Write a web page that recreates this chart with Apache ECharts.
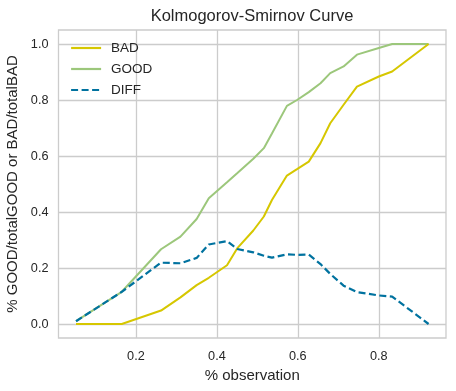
<!DOCTYPE html>
<html>
<head>
<meta charset="utf-8">
<script src="https://cdn.jsdelivr.net/npm/echarts@6/dist/echarts.min.js"></script>
<style>html,body{margin:0;padding:0;background:#fff}#c{width:456px;height:391px}</style>
</head>
<body>
<div id="c"></div>
<script>
var observation = [0.052, 0.165, 0.262, 0.31, 0.35, 0.38, 0.425, 0.45, 0.49, 0.516, 0.536, 0.573, 0.598, 0.627, 0.656, 0.68, 0.713, 0.746, 0.80, 0.833, 0.923];
var bad  = [0.0, 0.0, 0.048, 0.095, 0.139, 0.165, 0.21, 0.27, 0.334, 0.384, 0.443, 0.53, 0.553, 0.58, 0.646, 0.717, 0.783, 0.848, 0.884, 0.902, 1.0];
var good = [0.01, 0.115, 0.267, 0.312, 0.375, 0.449, 0.506, 0.538, 0.59, 0.628, 0.68, 0.779, 0.80, 0.828, 0.86, 0.896, 0.92, 0.962, 0.986, 1.0, 1.0];
var diff = [0.01, 0.115, 0.219, 0.217, 0.236, 0.284, 0.296, 0.268, 0.256, 0.244, 0.237, 0.249, 0.247, 0.248, 0.214, 0.179, 0.137, 0.114, 0.102, 0.098, 0.0];
var xTicks = [0.2, 0.4, 0.6, 0.8];
var yTicks = [0.0, 0.2, 0.4, 0.6, 0.8, 1.0];

function pairs(ys) { return observation.map(function (x, i) { return [x, ys[i]]; }); }

var font = 'Liberation Sans, Arial, sans-serif';
var gridColor = '#cccccc';
var textColor = '#262626';
var chart = echarts.init(document.getElementById('c'));
chart.setOption({
  animation: false,
  backgroundColor: '#ffffff',
  title: {
    text: 'Kolmogorov-Smirnov Curve', left: 252, top: 8, textAlign: 'center', padding: 0,
    textStyle: { fontFamily: font, fontSize: 16.5, fontWeight: 'normal', color: textColor }
  },
  grid: { left: 58.5, right: 10, top: 30, bottom: 53, containLabel: false, outerBoundsMode: 'none', show: true, borderColor: gridColor, borderWidth: 1.3, backgroundColor: '#fff' },
  legend: {
    orient: 'vertical', left: 70, top: 41, padding: 0, itemGap: 7, itemWidth: 30, itemHeight: 14,
    itemStyle: { opacity: 0 },
    lineStyle: { width: 2.2 },
    textStyle: { fontFamily: font, fontSize: 13.5, color: textColor, padding: [0, 0, 0, 5] },
    data: ['BAD', 'GOOD', 'DIFF']
  },
  xAxis: {
    type: 'value', min: 0.0087, max: 0.966,
    name: '% observation', nameLocation: 'middle', nameGap: 28,
    nameTextStyle: { fontFamily: font, fontSize: 15, color: textColor },
    axisLine: { show: false },
    axisTick: { show: false, customValues: xTicks },
    axisLabel: { customValues: xTicks, fontFamily: font, fontSize: 12.7, color: textColor, margin: 12, formatter: function (v) { return v.toFixed(1); } },
    splitLine: { show: true, lineStyle: { color: gridColor, width: 1.3 } }
  },
  yAxis: {
    type: 'value', min: -0.05, max: 1.05,
    name: '% GOOD/totalGOOD or BAD/totalBAD', nameLocation: 'middle', nameGap: 33, nameRotate: 90,
    nameTextStyle: { fontFamily: font, fontSize: 15, color: textColor },
    axisLine: { show: false },
    axisTick: { show: false, customValues: yTicks },
    axisLabel: { customValues: yTicks, fontFamily: font, fontSize: 12.7, color: textColor, margin: 10, formatter: function (v) { return v.toFixed(1); } },
    splitLine: { show: true, lineStyle: { color: gridColor, width: 1.3 } }
  },
  series: [
    { name: 'BAD', type: 'line', data: pairs(bad), symbol: 'none', color: '#d6c700', lineStyle: { width: 2, color: '#d6c700' }, z: 3 },
    { name: 'GOOD', type: 'line', data: pairs(good), symbol: 'none', color: '#9cc77b', lineStyle: { width: 2, color: '#9cc77b' }, z: 2 },
    { name: 'DIFF', type: 'line', data: pairs(diff), symbol: 'none', color: '#00729f', lineStyle: { width: 2.2, color: '#00729f', type: [7, 3.5] }, z: 4 }
  ]
});
</script>
</body>
</html>
